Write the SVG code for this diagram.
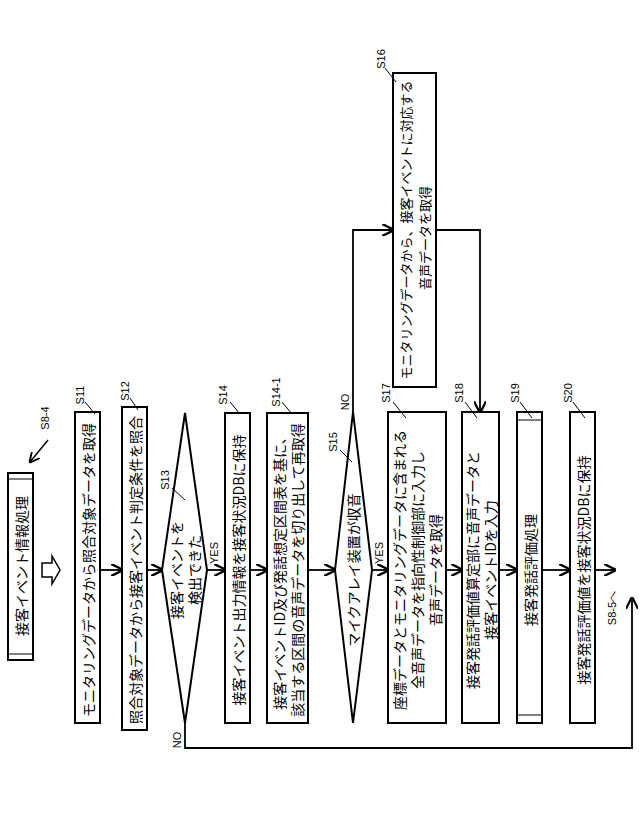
<svg xmlns="http://www.w3.org/2000/svg" width="640" height="835" viewBox="0 0 640 835">
<style>
.b{fill:#fff;stroke:#000;stroke-width:2}
.t{font-family:"Noto Sans CJK JP","Liberation Sans",sans-serif;font-size:14px;text-anchor:middle;dominant-baseline:central}
.s{font-size:13px}
.l{font-family:"Liberation Sans",sans-serif;font-size:11px;text-anchor:middle;dominant-baseline:central}
.c{fill:none;stroke:#000;stroke-width:1.8}
.ld{stroke:#000;stroke-width:1}
</style>
<defs>
<marker id="a" viewBox="0 0 10 10" refX="9" refY="5" markerWidth="7" markerHeight="7" orient="auto"><path d="M0,0L10,5L0,10" fill="none" stroke="#000" stroke-width="1.8"/></marker>
</defs>
<rect width="640" height="835" fill="#fff"/>
<g id="connectors">
<path class="c" marker-end="url(#a)" d="M100,570H122"/>
<path class="c" marker-end="url(#a)" d="M147,570H162"/>
<path class="c" marker-end="url(#a)" d="M207,570H225"/>
<path class="c" marker-end="url(#a)" d="M250,570H267"/>
<path class="c" marker-end="url(#a)" d="M308,570H335"/>
<path class="c" marker-end="url(#a)" d="M372,570H388"/>
<path class="c" marker-end="url(#a)" d="M446,570H462"/>
<path class="c" marker-end="url(#a)" d="M499,570H517"/>
<path class="c" marker-end="url(#a)" d="M542,570H570"/>
<path class="c" marker-end="url(#a)" d="M595,570H615"/>
<path class="c" marker-end="url(#a)" d="M185,723V748H632V598"/>
<path class="c" marker-end="url(#a)" d="M353,412V230H393"/>
<path class="c" marker-end="url(#a)" d="M436,230H480V412"/>
<path d="M42,563H52V556L60,570L52,584V577H42Z" fill="#fff" stroke="#000" stroke-width="1.5"/>
<path class="c" marker-end="url(#a)" d="M48,440L30,462" style="stroke-width:1.5"/>
<text class="l" transform="translate(612,608) rotate(-90)">S8-5へ</text>
<text class="l" transform="translate(45,418) rotate(-90)">S8-4</text>
</g>
<g id="start">
<rect class="b" x="8" y="473" width="25" height="187"/>
<path class="ld" d="M8,479H33M8,654H33" stroke-width="1.5"/>
<text class="t" transform="translate(20.5,566) rotate(-90)">接客イベント情報処理</text>
</g>
<g id="S11">
<rect class="b" x="75" y="412" width="25" height="311"/>
<text class="t" transform="translate(87.5,570) rotate(-90)">モニタリングデータから照合対象データを取得</text>
<path class="ld" d="M85,402L95,414"/><text class="l" transform="translate(80,395) rotate(-90)">S11</text>
</g>
<g id="S12">
<rect class="b" x="122" y="407" width="25" height="323"/>
<text class="t" transform="translate(134.5,570) rotate(-90)">照合対象データから接客イベント判定条件を照合</text>
<path class="ld" d="M130,398L138,410"/><text class="l" transform="translate(125,391) rotate(-90)">S12</text>
</g>
<g id="S13">
<path class="b" d="M185,413L207,570L185,723L162,570Z"/>
<text class="t" transform="translate(176,570) rotate(-90)">接客イベントを</text>
<text class="t" transform="translate(194,570) rotate(-90)">検出できた</text>
<path class="ld" d="M172,488L185,500"/><text class="l" transform="translate(165,480) rotate(-90)">S13</text>
<text class="l" transform="translate(214,553) rotate(-90)">YES</text>
<text class="l" transform="translate(177,740) rotate(-90)">NO</text>
</g>
<g id="S14">
<rect class="b" x="225" y="413" width="25" height="310"/>
<text class="t" transform="translate(237.5,570) rotate(-90)">接客イベント出力情報を接客状況DBに保持</text>
<path class="ld" d="M230,402L240,414"/><text class="l" transform="translate(223,395) rotate(-90)">S14</text>
</g>
<g id="S14-1">
<rect class="b" x="267" y="413" width="41" height="310"/>
<text class="t" transform="translate(279,570) rotate(-90)">接客イベントID及び発話想定区間表を基に、</text>
<text class="t" transform="translate(297,570) rotate(-90)">該当する区間の音声データを切り出して再取得</text>
<path class="ld" d="M282,402L292,414"/><text class="l" transform="translate(276,392) rotate(-90)">S14-1</text>
</g>
<g id="S15">
<path class="b" d="M353,412L372,570L353,723L335,570Z"/>
<text class="t" transform="translate(353,570) rotate(-90)">マイクアレイ装置が収音</text>
<path class="ld" d="M340,450L352,462"/><text class="l" transform="translate(333,442) rotate(-90)">S15</text>
<text class="l" transform="translate(345,402) rotate(-90)">NO</text>
<text class="l" transform="translate(379,553) rotate(-90)">YES</text>
</g>
<g id="S16">
<rect class="b" x="393" y="73" width="43" height="314"/>
<text class="t s" transform="translate(405,230) rotate(-90)">モニタリングデータから、接客イベントに対応する</text>
<text class="t s" transform="translate(424,238) rotate(-90)">音声データを取得</text>
<path class="ld" d="M385,68L396,82"/><text class="l" transform="translate(381,59) rotate(-90)">S16</text>
</g>
<g id="S17">
<rect class="b" x="388" y="412" width="58" height="311"/>
<text class="t" transform="translate(399,570) rotate(-90)">座標データとモニタリングデータに含まれる</text>
<text class="t" transform="translate(417,570) rotate(-90)">全音声データを指向性制御部に入力し</text>
<text class="t" transform="translate(435,570) rotate(-90)">音声データを取得</text>
<path class="ld" d="M393,402L406,418"/><text class="l" transform="translate(386,393) rotate(-90)">S17</text>
</g>
<g id="S18">
<rect class="b" x="462" y="412" width="37" height="311"/>
<text class="t" transform="translate(472,570) rotate(-90)">接客発話評価値算定部に音声データと</text>
<text class="t" transform="translate(490,570) rotate(-90)">接客イベントIDを入力</text>
<path class="ld" d="M465,402L477,418"/><text class="l" transform="translate(459,393) rotate(-90)">S18</text>
</g>
<g id="S19">
<rect class="b" x="517" y="412" width="25" height="311"/>
<path class="ld" d="M517,420H542M517,715H542" stroke-width="1.5"/>
<text class="t" transform="translate(529.5,570) rotate(-90)">接客発話評価処理</text>
<path class="ld" d="M520,402L532,418"/><text class="l" transform="translate(515,393) rotate(-90)">S19</text>
</g>
<g id="S20">
<rect class="b" x="570" y="412" width="25" height="311"/>
<text class="t" transform="translate(582.5,570) rotate(-90)">接客発話評価値を接客状況DBに保持</text>
<path class="ld" d="M573,402L585,418"/><text class="l" transform="translate(568,393) rotate(-90)">S20</text>
</g>
</svg>
